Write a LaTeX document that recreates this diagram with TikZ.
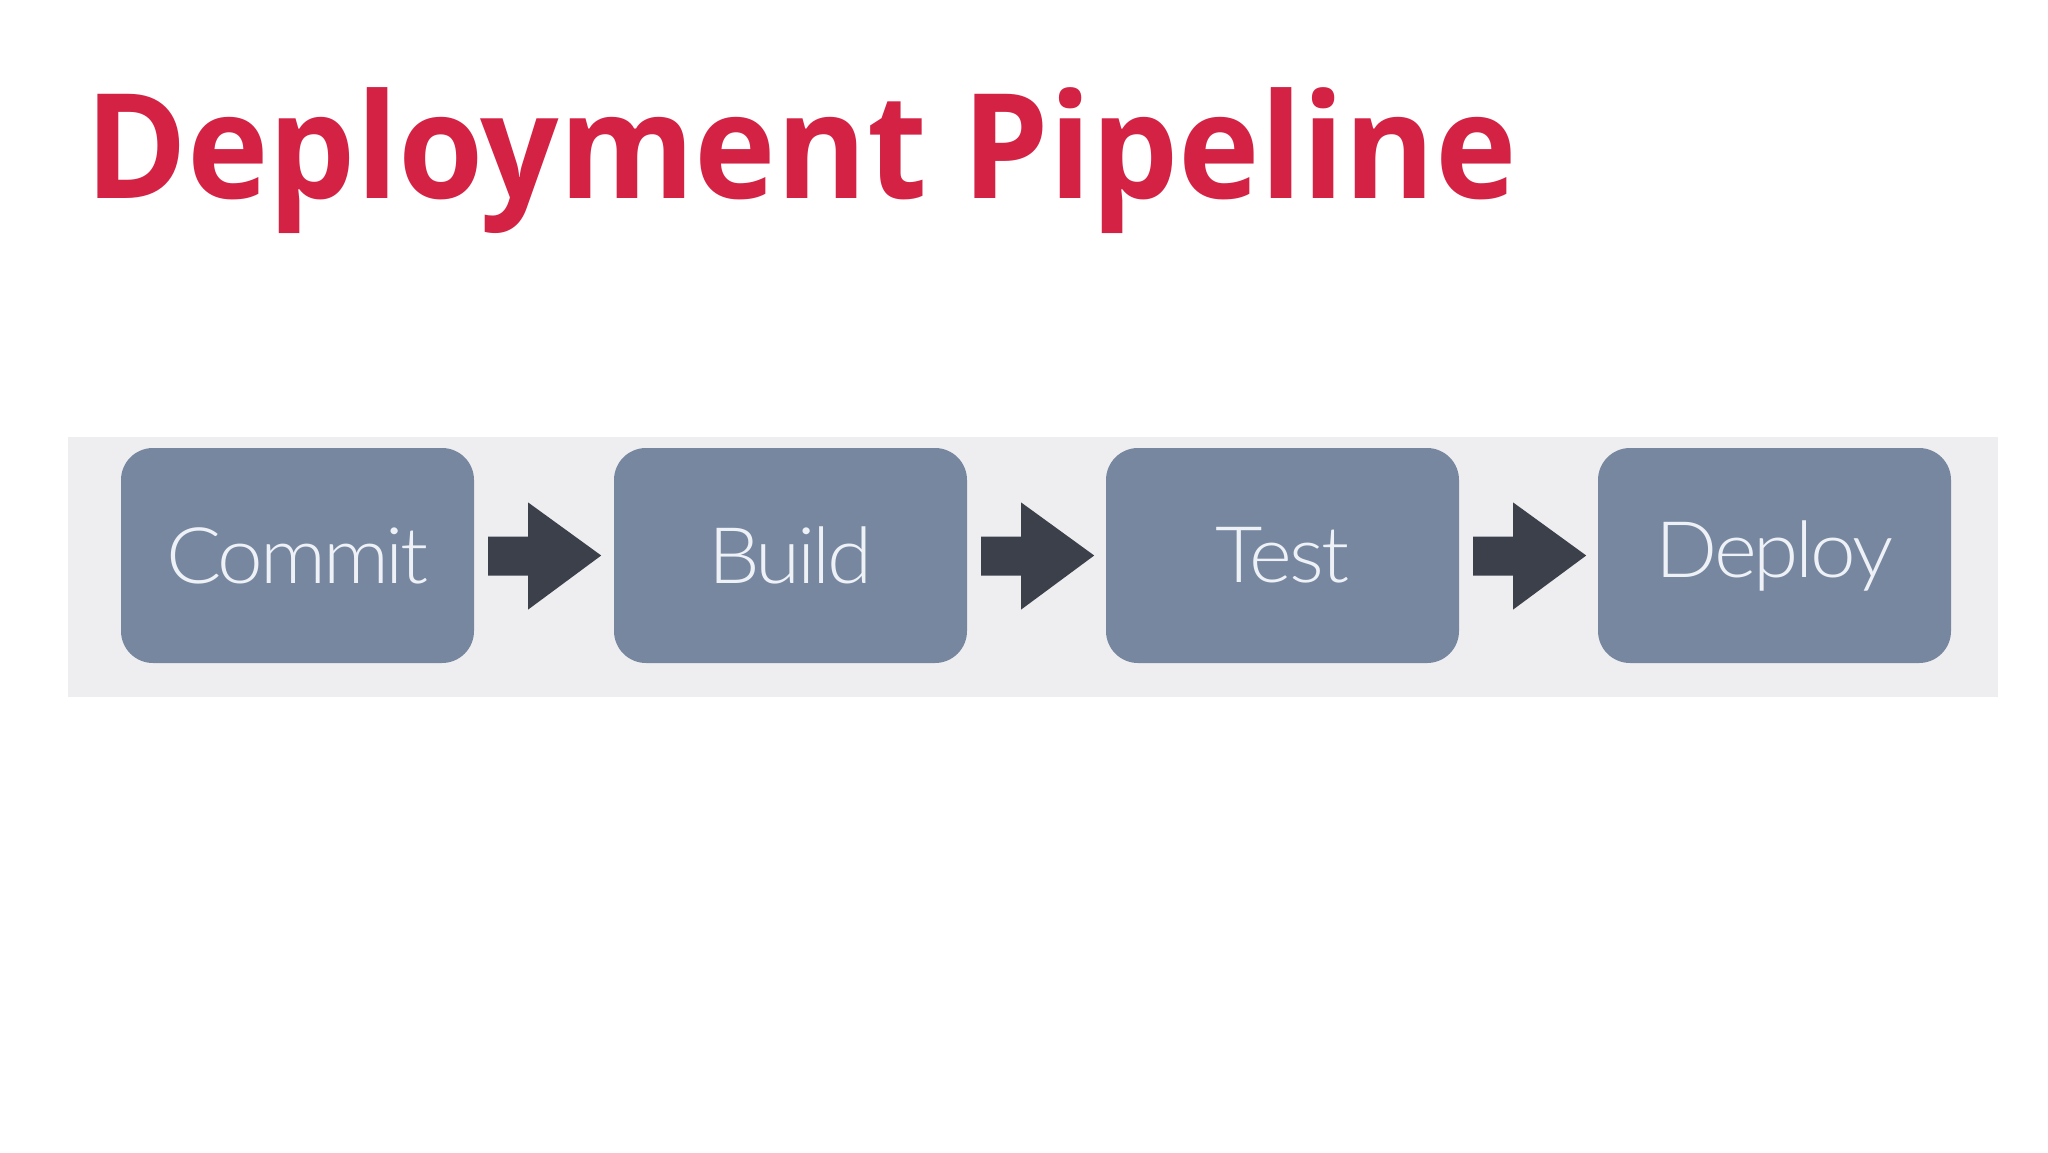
\documentclass[tikz,border=0pt]{standalone}
\usepackage{fontspec}
\setmainfont{Open Sans}
\newfontfamily\titlefont{Open Sans}[UprightFont=* Bold, FakeStretch=0.945]
\newfontfamily\boxfont{Lato}[UprightFont=* Light, FakeStretch=1.05, LetterSpace=-4]
\definecolor{titlered}{HTML}{D42244}
\definecolor{bandgray}{HTML}{EEEEF1}
\definecolor{boxslate}{HTML}{7787A0}
\definecolor{arrowdark}{HTML}{3C404A}
\definecolor{boxtext}{HTML}{EEF2F7}
\tikzset{
  stagebox/.style={fill=boxslate, rounded corners=32pt, minimum width=353pt, minimum height=215pt, inner sep=0pt, text=boxtext, font=\boxfont\fontsize{78}{90}\selectfont},
  flowarrow/.style={fill=arrowdark, draw=none}
}
\begin{document}
\begin{tikzpicture}[x=1pt,y=-1pt]
\useasboundingbox (0,0) rectangle (2048,1152);
\fill[white] (0,0) rectangle (2048,1152);
\node[anchor=base west, inner sep=0pt, text=titlered, font=\titlefont\fontsize{146}{160}\selectfont] (title) at (85,198) {Deployment Pipeline};
\fill[bandgray] (68,437) rectangle (1998,697);
\node[stagebox] (commit) at (297.5,555.5) {Commit};
\node[stagebox] (build) at (790.5,555.5) {Build};
\node[stagebox] (test) at (1282.5,555.5) {Test};
\node[stagebox] (deploy) at (1774.5,555.5) {Deploy};
\foreach \a/\b in {commit/build, build/test, test/deploy}{
  \path (\a.east) ++(14,0) coordinate (s\a);
  \fill[flowarrow] (s\a) ++(0,-19) -- ++(40,0) -- ++(0,-34) -- ++(73,53) -- ++(-73,54) -- ++(0,-34) -- ++(-40,0) -- cycle;
}
\end{tikzpicture}
\end{document}
